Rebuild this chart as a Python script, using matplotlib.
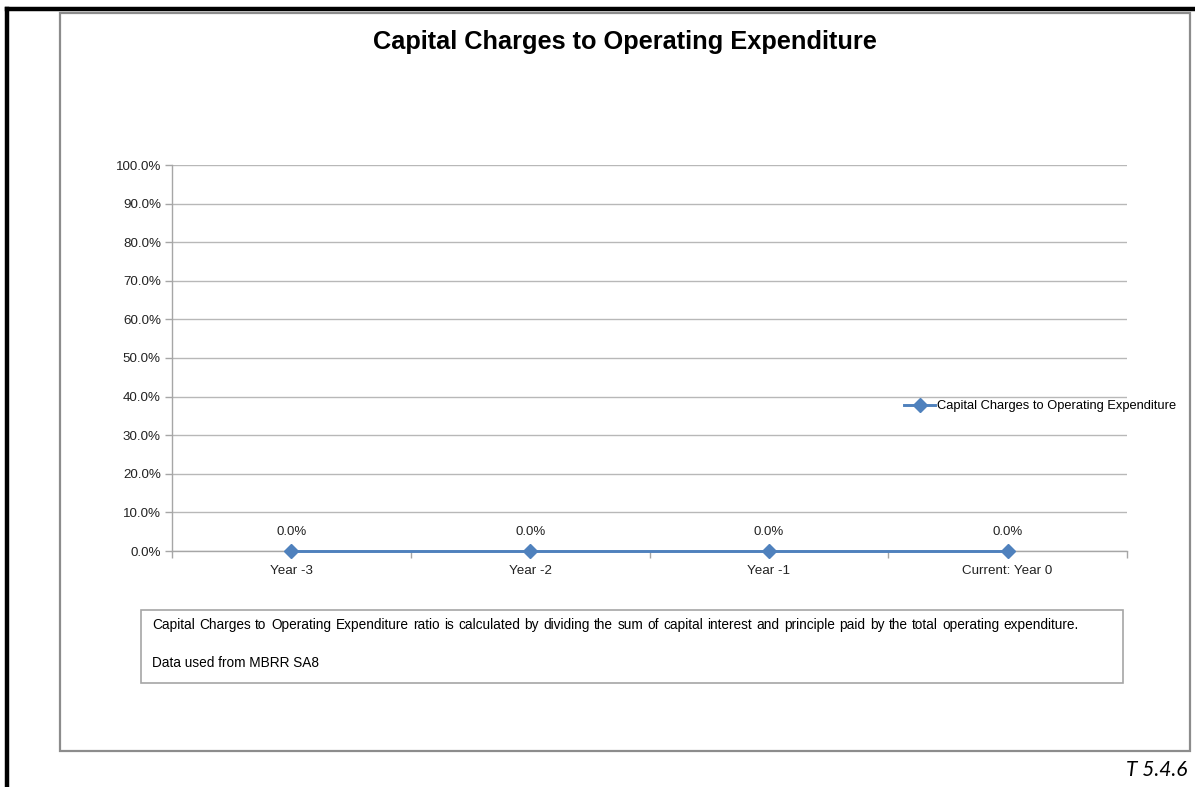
import matplotlib
matplotlib.use("Agg")
import matplotlib.pyplot as plt
from matplotlib.patches import Rectangle
from matplotlib.lines import Line2D
from matplotlib.ticker import FuncFormatter, MultipleLocator

# Chart data
categories = ["Year -3", "Year -2", "Year -1", "Current: Year 0"]
ratio_values = [0.0, 0.0, 0.0, 0.0]
series_name = "Capital Charges to Operating Expenditure"
chart_title = "Capital Charges to Operating Expenditure"
note_line1 = ("Capital Charges to Operating Expenditure ratio is calculated by dividing "
              "the sum of capital interest and principle paid by the total operating expenditure.")
note_line2 = "Data used from MBRR SA8"
table_ref = "T 5.4.6"

plt.rcParams["font.family"] = ["Liberation Sans", "DejaVu Sans"]

W, H = 1195, 787
fig = plt.figure(figsize=(W / 100, H / 100), dpi=100)
fig.patch.set_facecolor("white")


def fx(px):
    return px / W


def fy(py):
    return 1 - py / H


# Page frame: black top and left rules
fig.add_artist(Line2D([fx(7), 1.0], [fy(9), fy(9)], color="black", lw=3.2))
fig.add_artist(Line2D([fx(7), fx(7)], [fy(9), 0.0], color="black", lw=3.2))

# Chart area border
fig.add_artist(Rectangle((fx(60), fy(751)), fx(1190) - fx(60), fy(13) - fy(751),
                         fill=False, edgecolor="#8c8c8c", lw=1.6))

# Title
fig.text(fx(625), fy(42), chart_title, ha="center", va="center",
         fontsize=18.3, fontweight="bold", color="black")

# Plot area
ax = fig.add_axes([fx(172), fy(551), fx(1127) - fx(172), fy(165) - fy(551)])
x = list(range(len(categories)))
color = "#4F81BD"
ax.plot(x, ratio_values, color=color, lw=2.1, marker="D", markersize=7,
        label=series_name, zorder=3, clip_on=False)
for xi, v in zip(x, ratio_values):
    ax.annotate(f"{v * 100:.1f}%", (xi, v), xytext=(0, 13.5), textcoords="offset points",
                ha="center", va="center", fontsize=9.5, color="#222222")

ax.set_xlim(-0.5, len(categories) - 0.5)
ax.set_ylim(0, 1.0)
ax.yaxis.set_major_locator(MultipleLocator(0.1))
ax.yaxis.set_major_formatter(FuncFormatter(lambda v, p: f"{v * 100:.1f}%"))
ax.set_xticks(x)
ax.set_xticklabels(categories)
ax.set_xticks([i + 0.5 for i in range(-1, len(categories))], minor=True)
ax.tick_params(axis="x", which="major", length=0, pad=10, labelsize=9.6, colors="#222222")
ax.tick_params(axis="x", which="minor", length=5, color="#a6a6a6", width=1, direction="out")
ax.tick_params(axis="y", length=5, color="#a6a6a6", width=1, labelsize=9.6,
               labelcolor="#222222", pad=3)
ax.grid(axis="y", color="#b8b8b8", lw=1)
ax.set_axisbelow(True)
for side in ("top", "right"):
    ax.spines[side].set_visible(False)
for side in ("left", "bottom"):
    ax.spines[side].set_color("#a6a6a6")
    ax.spines[side].set_linewidth(1)

ax.legend(loc="center left", bbox_to_anchor=(fx(904), fy(406)),
          bbox_transform=fig.transFigure, frameon=False, fontsize=9.3,
          handlelength=2.4, handletextpad=0.15, borderaxespad=0, borderpad=0)

# Explanation box
fig.add_artist(Rectangle((fx(141), fy(683)), fx(1123) - fx(141), fy(610) - fy(683),
                         fill=False, edgecolor="#a6a6a6", lw=1.2))

# First paragraph is justified across the box: place word by word
note_left, note_right = 152, 1079
words = note_line1.split()
word_texts = [fig.text(fx(note_left), fy(625), w, ha="left", va="center",
                       fontsize=9.8, color="black") for w in words]
renderer = fig.canvas.get_renderer()
widths = [t.get_window_extent(renderer).width for t in word_texts]
gap = (note_right - note_left - sum(widths)) / (len(words) - 1)
xcur = note_left
for t, w in zip(word_texts, widths):
    t.set_x(fx(xcur))
    xcur += w + gap

fig.text(fx(note_left), fy(663), note_line2, ha="left", va="center", fontsize=9.8, color="black")

# Table reference
fig.text(fx(1187), fy(770), table_ref, ha="right", va="center", fontsize=15,
         style="italic", color="black", family=["Lato", "DejaVu Sans"])

fig.savefig("out.png", dpi=100)
